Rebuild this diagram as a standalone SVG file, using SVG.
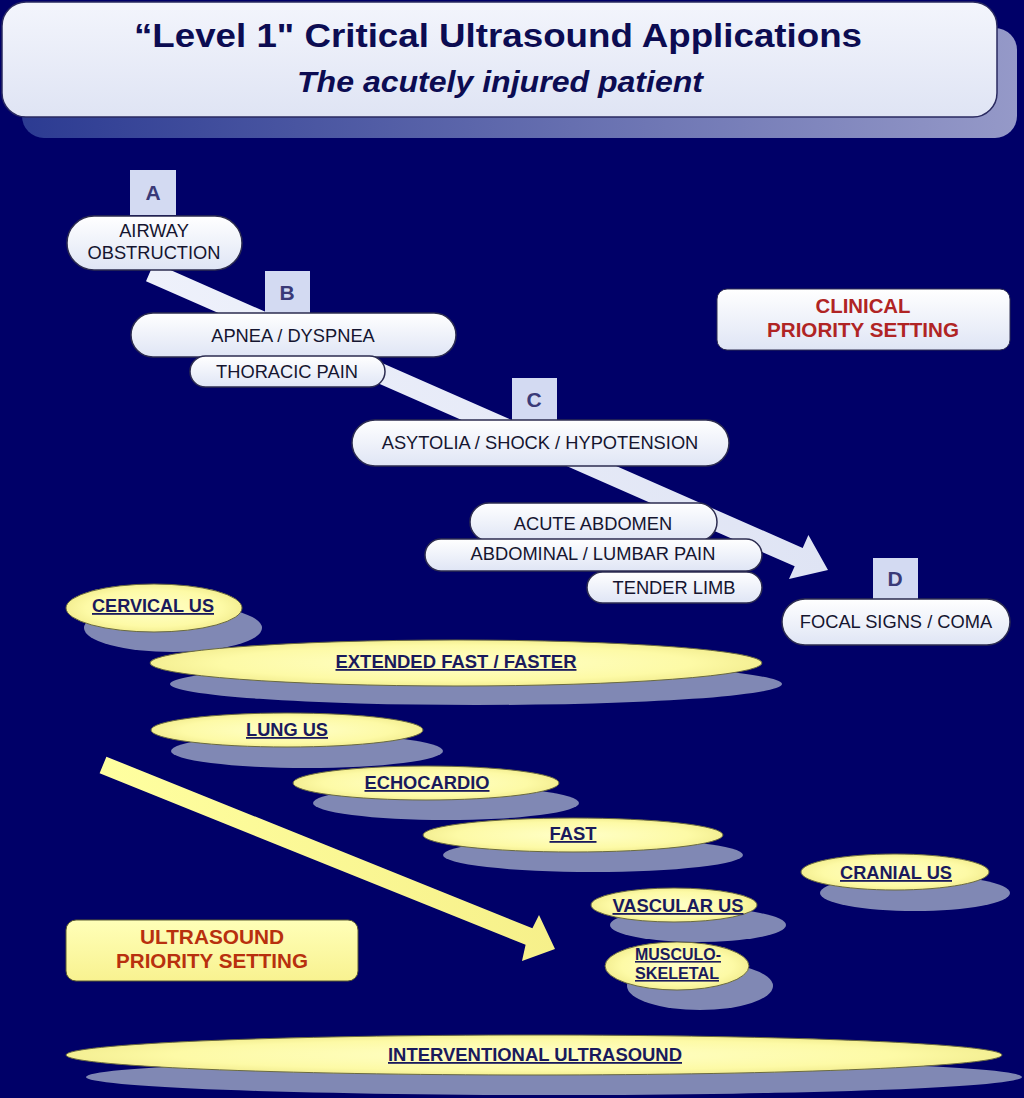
<svg xmlns="http://www.w3.org/2000/svg" width="1024" height="1098" viewBox="0 0 1024 1098">
<defs>
<linearGradient id="gTitle" x1="0" y1="0" x2="0" y2="1"><stop offset="0" stop-color="#f3f5fc"/><stop offset="1" stop-color="#dfe4f4"/></linearGradient>
<linearGradient id="gShadowT" x1="0" y1="0" x2="1" y2="0"><stop offset="0" stop-color="#2c3b92"/><stop offset="1" stop-color="#9599c8"/></linearGradient>
<linearGradient id="gPill" x1="0" y1="0" x2="0" y2="1"><stop offset="0" stop-color="#ffffff"/><stop offset="1" stop-color="#dfe5f5"/></linearGradient>
<linearGradient id="gArrowW" x1="0" y1="0" x2="1" y2="0"><stop offset="0" stop-color="#eef1fb"/><stop offset="1" stop-color="#dfe4f4"/></linearGradient>
<linearGradient id="gArrowY" x1="0" y1="0" x2="1" y2="0"><stop offset="0" stop-color="#ffffa0"/><stop offset="1" stop-color="#f6f08a"/></linearGradient>
<radialGradient id="gEll" cx="0.5" cy="0.5" r="0.55"><stop offset="0" stop-color="#ffffc8"/><stop offset="0.7" stop-color="#fdfaa6"/><stop offset="1" stop-color="#f0ea8a"/></radialGradient>
<linearGradient id="gYBox" x1="0" y1="0" x2="0" y2="1"><stop offset="0" stop-color="#ffffb8"/><stop offset="1" stop-color="#f8f290"/></linearGradient>
</defs>
<style>
.pill{fill:url(#gPill);stroke:#2c2c50;stroke-width:1.5}
.lbox{fill:#d3daf2}
.letter{font-family:"Liberation Sans",Arial,sans-serif;font-weight:bold;font-size:21px;fill:#3a3a78;text-anchor:middle}
.ptxt{font-family:"Liberation Sans",Arial,sans-serif;font-size:18.3px;fill:#151530;text-anchor:middle}
.shad{fill:#8088b4}
.ell{fill:url(#gEll);stroke:#6a6a40;stroke-width:1}
.etxt{font-family:"Liberation Sans",Arial,sans-serif;font-weight:bold;font-size:18px;fill:#1a1a5c;text-anchor:middle;text-decoration:underline}
.red{font-family:"Liberation Sans",Arial,sans-serif;font-weight:bold;font-size:20px;fill:#b02424;text-anchor:middle}
.orange{font-family:"Liberation Sans",Arial,sans-serif;font-weight:bold;font-size:20px;fill:#b8300e;text-anchor:middle}
</style>
<rect width="1024" height="1098" fill="#000068"/>

<g id="title">
<rect x="22" y="28" width="995" height="110" rx="22" fill="url(#gShadowT)"/>
<rect x="2" y="2" width="995" height="115" rx="24" fill="url(#gTitle)" stroke="#2a2a60" stroke-width="1.5"/>
<text x="498" y="47" font-family="'Liberation Sans',Arial,sans-serif" font-weight="bold" font-size="33" fill="#0c0c52" text-anchor="middle" textLength="728" lengthAdjust="spacingAndGlyphs">“Level 1" Critical Ultrasound Applications</text>
<text x="500" y="92" font-family="'Liberation Sans',Arial,sans-serif" font-weight="bold" font-style="italic" font-size="29" fill="#0c0c52" text-anchor="middle" textLength="406" lengthAdjust="spacingAndGlyphs">The acutely injured patient</text>
</g>

<g id="connectors">
<polygon points="154,262.8 802.7,548 808.4,535.1 828,570 789,579.1 794.7,566.3 146,281.2" fill="url(#gArrowW)"/>
<polygon points="106.4,756.7 532.4,928.2 539,915 555,949 522,961 525.6,944.8 99.6,773.3" fill="url(#gArrowY)"/>
</g>

<g id="clinical-priority">
<rect x="717" y="289" width="293" height="61" rx="10" fill="url(#gPill)" stroke="#2c2c50" stroke-width="1"/>
<text class="red" x="863" y="313" textLength="95" lengthAdjust="spacingAndGlyphs">CLINICAL</text>
<text class="red" x="863" y="337" textLength="192" lengthAdjust="spacingAndGlyphs">PRIORITY SETTING</text>
</g>

<g id="box-a"><rect class="lbox" x="130" y="170" width="46" height="45"/><text class="letter" x="153" y="200">A</text></g>
<g id="airway"><rect class="pill" x="67" y="216" width="175" height="54" rx="27"/><text class="ptxt" x="154" y="237">AIRWAY</text><text class="ptxt" x="154" y="259">OBSTRUCTION</text></g>

<g id="box-b"><rect class="lbox" x="265" y="271" width="45" height="43"/><text class="letter" x="287" y="300">B</text></g>
<g id="apnea"><rect class="pill" x="131" y="313" width="325" height="44" rx="22"/><text class="ptxt" x="293" y="342">APNEA / DYSPNEA</text></g>
<g id="thoracic"><rect class="pill" x="190" y="356" width="195" height="31" rx="15.5"/><text class="ptxt" x="287" y="378">THORACIC PAIN</text></g>

<g id="box-c"><rect class="lbox" x="512" y="378" width="45" height="43"/><text class="letter" x="534" y="407">C</text></g>
<g id="asytolia"><rect class="pill" x="352" y="420" width="377" height="46" rx="23"/><text class="ptxt" x="540" y="449">ASYTOLIA / SHOCK / HYPOTENSION</text></g>

<g id="acute-abdomen"><rect class="pill" x="470" y="503" width="247" height="38" rx="19"/><text class="ptxt" x="593" y="530">ACUTE ABDOMEN</text></g>
<g id="abdominal"><rect class="pill" x="425" y="539" width="337" height="32" rx="16"/><text class="ptxt" x="593" y="560">ABDOMINAL / LUMBAR PAIN</text></g>
<g id="tender"><rect class="pill" x="587" y="572" width="175" height="31" rx="15.5"/><text class="ptxt" x="674" y="594">TENDER LIMB</text></g>

<g id="box-d"><rect class="lbox" x="873" y="558" width="45" height="41"/><text class="letter" x="895" y="586">D</text></g>
<g id="focal"><rect class="pill" x="782" y="599" width="228" height="46" rx="23"/><text class="ptxt" x="896" y="628">FOCAL SIGNS / COMA</text></g>

<g id="cervical"><ellipse class="shad" cx="173" cy="628" rx="89" ry="24"/><ellipse class="ell" cx="154" cy="608" rx="88" ry="24"/><text class="etxt" x="153" y="612" textLength="122" lengthAdjust="spacingAndGlyphs">CERVICAL US</text></g>
<g id="extended-fast"><ellipse class="shad" cx="476" cy="684" rx="306" ry="21"/><ellipse class="ell" cx="456" cy="663" rx="306" ry="23"/><text class="etxt" x="456" y="668" textLength="241" lengthAdjust="spacingAndGlyphs">EXTENDED FAST / FASTER</text></g>
<g id="lung"><ellipse class="shad" cx="307" cy="751" rx="136" ry="17"/><ellipse class="ell" cx="287" cy="730" rx="136" ry="17"/><text class="etxt" x="287" y="736" textLength="82" lengthAdjust="spacingAndGlyphs">LUNG US</text></g>
<g id="echocardio"><ellipse class="shad" cx="446" cy="803" rx="133" ry="17"/><ellipse class="ell" cx="426" cy="783" rx="133" ry="17"/><text class="etxt" x="427" y="789" textLength="125" lengthAdjust="spacingAndGlyphs">ECHOCARDIO</text></g>
<g id="fast"><ellipse class="shad" cx="593" cy="855" rx="150" ry="17"/><ellipse class="ell" cx="573" cy="835" rx="150" ry="17"/><text class="etxt" x="573" y="840" textLength="47" lengthAdjust="spacingAndGlyphs">FAST</text></g>
<g id="cranial"><ellipse class="shad" cx="915" cy="893" rx="95" ry="18"/><ellipse class="ell" cx="895" cy="872" rx="94" ry="18"/><text class="etxt" x="896" y="879" textLength="112" lengthAdjust="spacingAndGlyphs">CRANIAL US</text></g>
<g id="vascular"><ellipse class="shad" cx="698" cy="925" rx="88" ry="17"/><ellipse class="ell" cx="674" cy="905" rx="83" ry="17"/><text class="etxt" x="678" y="912" textLength="131" lengthAdjust="spacingAndGlyphs">VASCULAR US</text></g>
<g id="musculo"><ellipse class="shad" cx="700" cy="986" rx="73" ry="24"/><ellipse class="ell" cx="677" cy="966" rx="72" ry="24"/><text class="etxt" x="678" y="960" style="font-size:16px" textLength="86" lengthAdjust="spacingAndGlyphs">MUSCULO-</text><text class="etxt" x="677" y="979" style="font-size:16px" textLength="84" lengthAdjust="spacingAndGlyphs">SKELETAL</text></g>

<g id="us-priority">
<rect x="66" y="920" width="292" height="61" rx="10" fill="url(#gYBox)" stroke="#5a5a30" stroke-width="1"/>
<text class="orange" x="212" y="944" textLength="144" lengthAdjust="spacingAndGlyphs">ULTRASOUND</text>
<text class="orange" x="212" y="968" textLength="192" lengthAdjust="spacingAndGlyphs">PRIORITY SETTING</text>
</g>

<g id="interventional"><ellipse class="shad" cx="554" cy="1077" rx="468" ry="18"/><ellipse class="ell" cx="534" cy="1055" rx="468" ry="20"/><text class="etxt" x="535" y="1061" textLength="294" lengthAdjust="spacingAndGlyphs">INTERVENTIONAL ULTRASOUND</text></g>
</svg>
